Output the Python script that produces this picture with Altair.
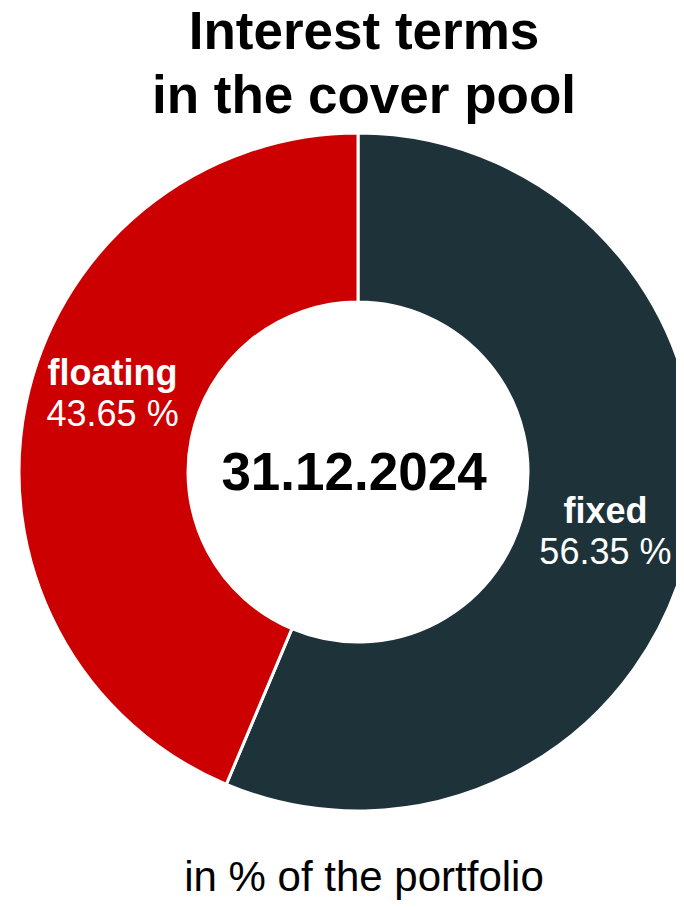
import altair as alt
import pandas as pd

# Data
categories = ["fixed", "floating"]
shares = [56.35, 43.65]
share_labels = ["56.35 %", "43.65 %"]
order_idx = [0, 1]
colors = ["#1E323A", "#CC0000"]

title_lines = ["Interest terms", "in the cover pool"]
center_label = "31.12.2024"
footnote = "in % of the portfolio"

FONT = "Liberation Sans"
CX, CY = 350, 464

df = pd.DataFrame({
    "category": categories,
    "share": shares,
    "label": share_labels,
    "idx": order_idx,
})

base = alt.Chart(df).encode(
    theta=alt.Theta("share:Q", stack=True),
    order=alt.Order("idx:Q"),
    x=alt.value(CX),
    y=alt.value(CY),
)

arc = base.mark_arc(radius=339, innerRadius=170, stroke="white", strokeWidth=3).encode(
    color=alt.Color("category:N", scale=alt.Scale(domain=categories, range=colors), legend=None)
)

name_txt = base.mark_text(
    radius=256, thetaOffset=0.075, font=FONT, fontSize=36, fontWeight="bold",
    color="white", dx=1, dy=-18, baseline="alphabetic", align="center"
).encode(text="category:N")

val_txt = base.mark_text(
    radius=256, thetaOffset=0.075, font=FONT, fontSize=36, fontWeight="normal",
    color="white", dx=1, dy=23, baseline="alphabetic", align="center"
).encode(text="label:N")

ann = pd.DataFrame({"t": [0]})

def text_layer(txt, x, y, size, weight, baseline="alphabetic"):
    return alt.Chart(ann).mark_text(
        text=txt, font=FONT, fontSize=size, fontWeight=weight, color="black",
        align="center", baseline=baseline
    ).encode(x=alt.value(x), y=alt.value(y))

t1 = text_layer(title_lines[0], 356, 41, 53, "bold")
t2 = text_layer(title_lines[1], 356, 105, 53, "bold")
center = text_layer(center_label, 346, 482, 53, "bold")
foot = text_layer(footnote, 356, 883, 42, "normal")

chart = alt.layer(arc, name_txt, val_txt, t1, t2, center, foot).properties(
    width=668, height=892, autosize="none", padding=0
).configure_view(stroke=None)

chart.save("out.html", embed_options={"renderer": "svg", "actions": False})
